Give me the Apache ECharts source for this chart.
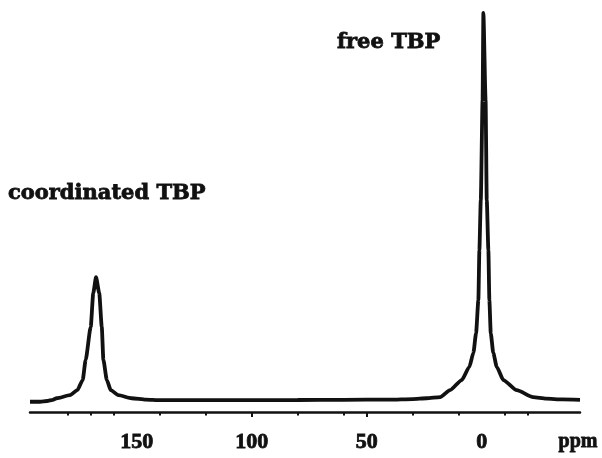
<!DOCTYPE html>
<html>
<head>
<meta charset="utf-8">
<script src="https://cdn.jsdelivr.net/npm/echarts@6/dist/echarts.min.js"></script>
<style>
html,body{margin:0;padding:0;background:#fff;}
#chart{width:602px;height:458px;}
</style>
</head>
<body>
<div id="chart"></div>
<script>
// chemical shift (ppm), high -> low
const shiftPpm = [196.4, 192, 189, 186.5, 184.8, 179.0, 175.8, 173.5, 172.2, 170.0, 168.9, 167.7,
  166.3, 165.2, 164.5, 163.0, 161.3, 158.0, 152.2, 146, 140, 120, 100, 80, 60, 40, 30, 24,
  18.1, 13.8, 8.7, 5.4, 3.65, 2.48, 1.48, 1.04, 0.43, -0.35, -0.7, -1.65, -2.17, -2.87, -3.3,
  -3.9, -5.0, -6.5, -9.4, -15.2, -22.3, -28, -35, -42.7];
// signal intensity (free TBP peak = 100)
const intensity = [-0.2, -0.2, 0.0, 0.3, 0.7, 1.5, 2.8, 5.4, 10.6, 19.1, 27.8, 31.9,
  27.8, 19.1, 10.6, 5.4, 2.8, 1.5, 0.7, 0.35, 0.2, 0.2, 0.2, 0.25, 0.3, 0.35, 0.5, 0.7,
  1.0, 2.8, 5.4, 8.8, 12.4, 17.5, 26.0, 38.9, 51.8, 77.6, 100, 77.6, 51.8, 38.9, 26.0,
  17.5, 12.4, 8.8, 5.4, 2.8, 1.0, 0.6, 0.4, 0.3];
const tickLabels = [150, 100, 50, 0];
const majorTicks = [100, 50];
const minorTicks = [180, 170, 160, 140, 120, 80, 60, 30, 10, -10, -20];
const xMin = -42.7, xMax = 196.4;
const yMin = -2.84, yMax = 100;

const ink = '#111';
const chart = echarts.init(document.getElementById('chart'));
const pts = shiftPpm.map((x, i) => [x, intensity[i]]);

chart.setOption({
  backgroundColor: '#fff',
  animation: false,
  grid: {left: 30, right: 22, top: 13, bottom: 46},
  xAxis: [{
    type: 'value', inverse: true, min: xMin, max: xMax, position: 'bottom',
    splitLine: {show: false},
    axisLine: {show: true, onZero: false, lineStyle: {color: ink, width: 2.5}},
    axisTick: {show: true, customValues: majorTicks, length: 5, lineStyle: {color: ink, width: 2}},
    axisLabel: {customValues: tickLabels, margin: 19, color: ink,
      fontFamily: 'Liberation Serif', fontWeight: 'bold', fontSize: 22,
      textBorderColor: ink, textBorderWidth: 0.8}
  }, {
    type: 'value', inverse: true, min: xMin, max: xMax, position: 'bottom',
    splitLine: {show: false},
    axisLine: {show: false, onZero: false},
    axisTick: {show: true, customValues: minorTicks, length: 3.5, lineStyle: {color: ink, width: 2}},
    axisLabel: {show: false}
  }],
  yAxis: {type: 'value', min: yMin, max: yMax, show: false},
  series: [{
    type: 'line', xAxisIndex: 0, data: pts, symbol: 'none',
    smooth: 0.2, smoothMonotone: 'x',
    lineStyle: {color: ink, width: 3.8}
  }],
  graphic: [
    {type: 'text', style: {text: 'coordinated TBP', x: 8, y: 194, verticalAlign: 'middle',
      font: 'bold 21px "DejaVu Serif"', fill: ink, stroke: ink, lineWidth: 0.8}},
    {type: 'text', style: {text: 'free TBP', x: 337, y: 43, verticalAlign: 'middle',
      font: 'bold 21px "DejaVu Serif"', fill: ink, stroke: ink, lineWidth: 0.8}},
    {type: 'text', style: {text: 'ppm', x: 578, y: 442, align: 'center', verticalAlign: 'middle',
      font: 'bold 20px "Liberation Serif"', fill: ink, stroke: ink, lineWidth: 0.8}}
  ]
});
</script>
</body>
</html>
